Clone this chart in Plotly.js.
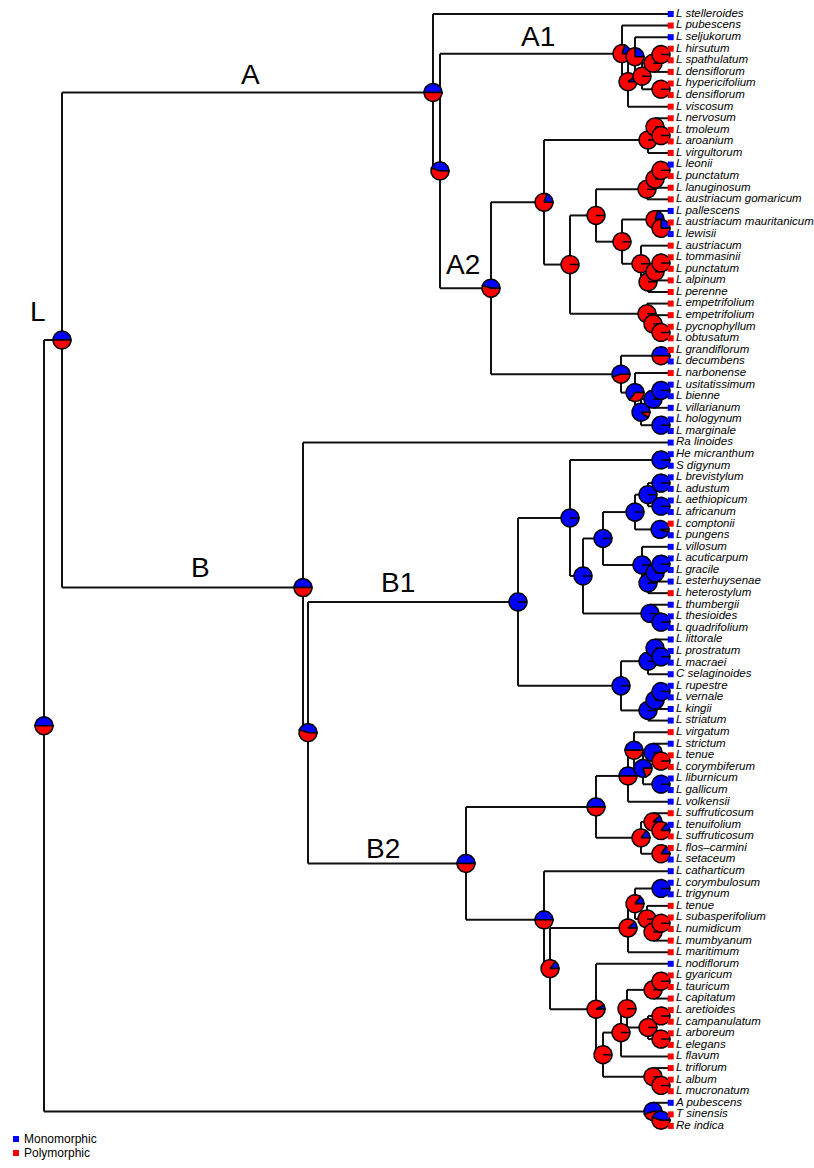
<!DOCTYPE html>
<html><head><meta charset="utf-8">
<script src="https://cdn.plot.ly/plotly-3.0.1.min.js"></script>
<style>html,body{margin:0;padding:0;background:#fff}</style>
</head><body><div id="chart" style="width:814px;height:1168px"></div>
<script>
// ---------- DATA ----------
const tipNames = [
"L stelleroides","L pubescens","L seljukorum","L hirsutum","L spathulatum","L densiflorum","L hypericifolium","L densiflorum","L viscosum",
"L nervosum","L tmoleum","L aroanium","L virgultorum","L leonii","L punctatum","L lanuginosum","L austriacum gomaricum",
"L pallescens","L austriacum mauritanicum","L lewisii","L austriacum","L tommasinii","L punctatum","L alpinum","L perenne",
"L empetrifolium","L empetrifolium","L pycnophyllum","L obtusatum","L grandiflorum","L decumbens","L narbonense",
"L usitatissimum","L bienne","L villarianum","L hologynum","L marginale","Ra linoides","He micranthum","S digynum",
"L brevistylum","L adustum","L aethiopicum","L africanum","L comptonii","L pungens","L villosum","L acuticarpum","L gracile",
"L esterhuysenae","L heterostylum","L thumbergii","L thesioides","L quadrifolium","L littorale","L prostratum","L macraei",
"C selaginoides","L rupestre","L vernale","L kingii","L striatum","L virgatum","L strictum","L tenue","L corymbiferum",
"L liburnicum","L gallicum","L volkensii","L suffruticosum","L tenuifolium","L suffruticosum","L flos\u2013carmini","L setaceum",
"L catharticum","L corymbulosum","L trigynum","L tenue","L subasperifolium","L numidicum","L mumbyanum","L maritimum",
"L nodiflorum","L gyaricum","L tauricum","L capitatum","L aretioides","L campanulatum","L arboreum","L elegans","L flavum",
"L triflorum","L album","L mucronatum","A pubescens","T sinensis","Re indica"];
// M = Monomorphic, P = Polymorphic (one letter per tip, top to bottom)
const tipStates = ("M P M PPPPPPPPPP M PPP M P M PPPPPPPPPP M P MMMMMMMMMMMM P MMMMM P MMMMMMMMMMM " +
                   "P M PP MMM P M PP MMMM PPPPP M PPPPPPPPPPP M PP").replace(/ /g,"").split("");
const stateNames = {M:"Monomorphic", P:"Polymorphic"};
const stateColors = {M:"#0000ff", P:"#ff0000"};

// Tree: tips are numbered 1..97 (order above); internal nodes written "(kids)age:fractionMonomorphic"
const cladeA1 = "(2,((3,(((4,5)7:0,6)15:0,(7,8)7:0)26:0)33:0.25,9)40:0.1)46:0.2";
const cladeNerv = "((10,(11,12)7:0)13:0,13)20:0";
const cladeGom = "(((14,15)7:0,16)13:0,17)21:0";
const cladePal = "(18,(19,20)7:0.25)13:0.2";
const cladeAus = "(21,(((22,23)7:0,24)13:0,25)20:0)27:0";
const cladeEmp = "(26,(27,(28,29)7:0)15:0)21:0";
const cladeA2low = "((30,31)7:0.5,(32,(((33,34)7:1,35)15:1,(36,37)7:1)27:0.9)33:0.65)47:0.55";
const cladeA2 = "((" + cladeNerv + ",((" + cladeGom + ",(" + cladePal + "," + cladeAus + ")46:0)72:0," + cladeEmp + ")98:0)124:0.2," + cladeA2low + ")177:0.45";
const cladeA = "(1,(" + cladeA1 + "," + cladeA2 + ")228:0.45)235:0.5";

const cladeBrev = "(((41,42)7:1,(43,44)7:1)20:1,(45,46)8:0.95)33:1";
const cladeVill = "(47,(((48,49)7:1,50)13:1,51)20:1)26:1";
const cladeThumb = "(52,(53,54)7:1)18:1";
const cladeLitt = "((55,(56,57)7:1)13:1,58)20:1";
const cladeRup = "(((59,60)7:1,61)13:1,62)20:1";
const cladeB1 = "(((39,40)7:1,((" + cladeBrev + "," + cladeVill + ")65:1," + cladeThumb + ")85:1)98:1,(" + cladeLitt + "," + cladeRup + ")47:1)150:1";

const cladeB2a = "(((63,((64,(65,66)7:0)15:1,(67,68)7:1)25:0.8)34:0.5,69)40:0.5,((70,(71,72)7:0.15)15:0.12,(73,74)7:0.15)27:0.15)72:0.5";
const cladeMar = "(((76,77)7:1,(78,((79,80)7:0,81)15:0)21:0)33:0.15,82)40:0.12";
const cladeGya = "((((84,85)7:0,86)15:0,((87,88)7:0,(89,90)7:0)20:0)41:0,91)47:0";
const cladeTri = "(92,(93,94)7:0)15:0";
const cladeB2b = "(75,(" + cladeMar + ",(83,(" + cladeGya + "," + cladeTri + ")65:0)72:0.08)118:0.15)124:0.5";
const cladeB = "(38,(" + cladeB1 + ",(" + cladeB2a + "," + cladeB2b + ")202:0.5)360:0.45)365:0.5";
const cladeOut = "(95,(96,97)7:0.45)15:0.55";
const treeString = "((" + cladeA + "," + cladeB + ")606:0.5," + cladeOut + ")624:0.5";

const cladeLabels = [
  {text:"A", px:250, py:75}, {text:"A1", px:538, py:37}, {text:"A2", px:463, py:264},
  {text:"L", px:38, py:312}, {text:"B", px:200, py:567}, {text:"B1", px:398, py:582},
  {text:"B2", px:383, py:848}];

// ---------- GEOMETRY ----------
const W = 814, H = 1168;
const tipTopPx = 14, tipStepPx = 11.583, tipPx = 668;
const yTop = 1 - tipTopPx / tipStepPx, yBot = 1 + (H - tipTopPx) / tipStepPx;
const xLeftAge = tipPx, xRightAge = tipPx - W;
const pxPerAge = W / (xLeftAge - xRightAge);
const pxPerIdx = H / (yBot - yTop);
const pieR = 9;

// ---------- PARSE ----------
function parseTree(s) {
  let pos = 0;
  function node() {
    if (s[pos] === "(") {
      pos++;
      const kids = [node()];
      while (s[pos] === ",") { pos++; kids.push(node()); }
      pos++; // ')'
      let lab = "";
      while (pos < s.length && s[pos] !== "," && s[pos] !== ")") lab += s[pos++];
      const [a, b] = lab.split(":");
      return {kids, age: +a, blue: +b};
    } else {
      let num = "";
      while (pos < s.length && /[0-9]/.test(s[pos])) num += s[pos++];
      const i = +num;
      return {tip: i, age: 0, y: i};
    }
  }
  return node();
}
const root = parseTree(treeString);
(function setY(n) {
  if (n.kids) { n.kids.forEach(setY); n.y = (n.kids[0].y + n.kids[n.kids.length - 1].y) / 2; }
})(root);

// ---------- TRACES ----------
const traces = [];
const lx = [], ly = [];
(function edges(n) {
  if (!n.kids) return;
  const k0 = n.kids[0], k1 = n.kids[n.kids.length - 1];
  lx.push(n.age, n.age, null); ly.push(k0.y, k1.y, null);
  n.kids.forEach(k => { lx.push(n.age, k.age, null); ly.push(k.y, k.y, null); edges(k); });
})(root);
traces.push({type:"scatter", mode:"lines", x:lx, y:ly, line:{color:"#111", width:2}, hoverinfo:"skip", showlegend:false});

function wedge(n, a0, a1, color) {
  const xs = [n.age], ys = [n.y];
  const steps = Math.max(3, Math.ceil((a1 - a0) / (2 * Math.PI) * 64));
  for (let i = 0; i <= steps; i++) {
    const t = a0 + (a1 - a0) * i / steps;
    xs.push(n.age - pieR * Math.cos(t) / pxPerAge);
    ys.push(n.y - pieR * Math.sin(t) / pxPerIdx);
  }
  xs.push(n.age); ys.push(n.y);
  traces.push({type:"scatter", mode:"lines", x:xs, y:ys, fill:"toself", fillcolor:color,
    line:{color:"#000", width:1.5}, hoverinfo:"skip", showlegend:false});
}
(function pies(n) {
  if (!n.kids) return;
  const b = n.blue * 2 * Math.PI;
  if (n.blue > 0) wedge(n, 0, b, stateColors.M);
  if (n.blue < 1) wedge(n, b, 2 * Math.PI, stateColors.P);
  n.kids.forEach(pies);
})(root);

["M", "P"].forEach(st => {
  const ys = [];
  tipStates.forEach((s, i) => { if (s === st) ys.push(i + 1); });
  traces.push({type:"scatter", mode:"markers", name:stateNames[st], x:ys.map(() => -2.7 / pxPerAge), y:ys,
    marker:{symbol:"square", size:6, color:stateColors[st]}, hoverinfo:"skip", showlegend:false});
});

traces.push({type:"scatter", mode:"text", x:tipNames.map(() => -8 / pxPerAge), y:tipNames.map((_, i) => i + 1),
  text:tipNames.map(t => "<i>" + t + "</i>"), textposition:"middle right",
  textfont:{family:"Liberation Sans, Arial, sans-serif", size:11.5, color:"#000"}, hoverinfo:"skip", showlegend:false});

// ---------- LAYOUT ----------
const annotations = cladeLabels.map(c => ({xref:"paper", yref:"paper", x:c.px / W, y:1 - c.py / H,
  text:c.text, showarrow:false, xanchor:"center", yanchor:"middle",
  font:{family:"Liberation Sans, Arial, sans-serif", size:28, color:"#000"}}));
const shapes = [];
[["M", 1139], ["P", 1153]].forEach(([st, py]) => {
  shapes.push({type:"rect", xref:"paper", yref:"paper", x0:13 / W, x1:19 / W, y0:1 - (py + 3) / H, y1:1 - (py - 3) / H,
    fillcolor:stateColors[st], line:{width:0}});
  annotations.push({xref:"paper", yref:"paper", x:22 / W, y:1 - py / H, text:stateNames[st], showarrow:false,
    xanchor:"left", yanchor:"middle", font:{family:"Liberation Sans, Arial, sans-serif", size:12, color:"#000"}});
});

const layout = {
  width:W, height:H, margin:{l:0, r:0, t:0, b:0}, paper_bgcolor:"#fff", plot_bgcolor:"#fff", showlegend:false,
  xaxis:{range:[xLeftAge, xRightAge], visible:false, fixedrange:true},
  yaxis:{range:[yBot, yTop], visible:false, fixedrange:true},
  annotations, shapes
};
Plotly.newPlot("chart", traces, layout, {staticPlot:true, displayModeBar:false});
</script></body></html>
